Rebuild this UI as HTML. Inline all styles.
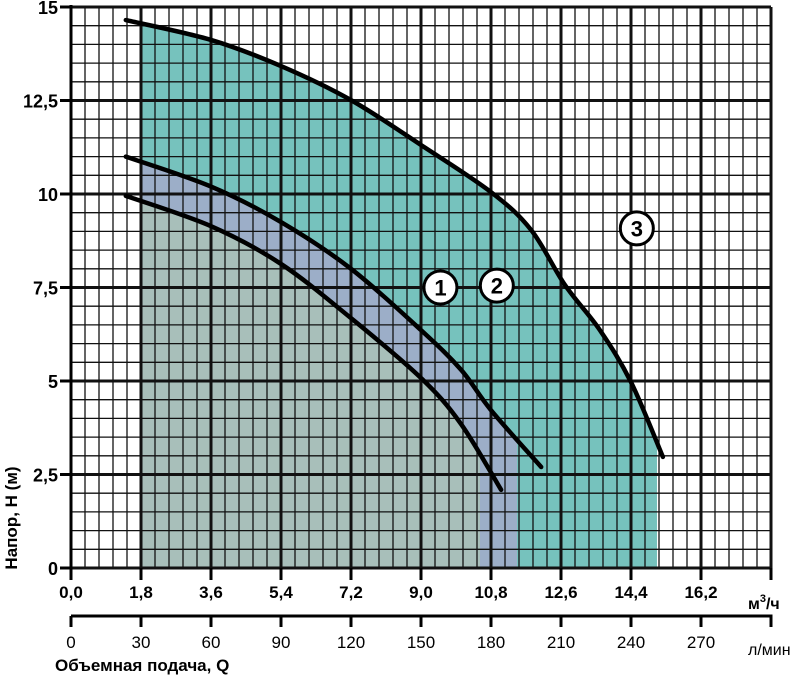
<!DOCTYPE html>
<html><head><meta charset="utf-8"><style>
html,body{margin:0;padding:0;background:#fff;}
svg{display:block;font-family:"Liberation Sans",Arial,sans-serif;}
</style></head><body>
<svg id="chart" width="797" height="677" viewBox="0 0 797 677" xmlns="http://www.w3.org/2000/svg">
<defs>
<clipPath id="c3"><rect x="141" y="0" width="516" height="568"/></clipPath>
<clipPath id="c2"><rect x="141" y="0" width="376" height="568"/></clipPath>
<clipPath id="c1"><rect x="141" y="0" width="339" height="568"/></clipPath>
</defs>
<g id="fills"></g>
<g id="grid"></g>
<g id="curves"></g>
<g id="axes"></g>
</svg>
<script>
const xTicksM3 = ["0,0","1,8","3,6","5,4","7,2","9,0","10,8","12,6","14,4","16,2"];
const xTicksL = ["0","30","60","90","120","150","180","210","240","270"];
const yTicks = ["0","2,5","5","7,5","10","12,5","15"];
const curve1Q = [1.41,3.6,5.4,7.2,9.0,10.03,11.06];
const curve1H = [9.95,9.14,8.13,6.68,5.08,3.85,2.09];
const curve2Q = [1.41,3.6,5.4,7.2,9.0,10.03,10.8,12.09];
const curve2H = [11.0,10.2,9.25,8.0,6.36,5.3,4.22,2.7];
const curve3Q = [1.41,3.6,5.4,7.2,9.0,10.8,11.83,12.7,13.6,14.4,15.22];
const curve3H = [14.65,14.12,13.42,12.51,11.31,10.05,9.04,7.57,6.36,4.97,2.97];
const labelIds = ["1","2","3"];
const labelQ = [9.5,10.95,14.55];
const labelH = [7.5,7.55,9.08];

const X0=71, PX_PER_Q=70/1.8, Y0=568, PX_PER_H=561/15;
const xs=q=>X0+q*PX_PER_Q, ys=h=>Y0-h*PX_PER_H;
const NS="http://www.w3.org/2000/svg";
function mk(tag,attrs,parent){const e=document.createElementNS(NS,tag);for(const k in attrs)e.setAttribute(k,attrs[k]);parent.appendChild(e);return e;}
const fills=document.getElementById('fills'),grid=document.getElementById('grid'),curves=document.getElementById('curves'),axes=document.getElementById('axes');

function smooth(Q,H){
  const p=Q.map((q,i)=>[xs(q),ys(H[i])]);
  let d="M"+p[0][0]+","+p[0][1];
  for(let i=0;i<p.length-1;i++){
    const p0=p[i-1]||p[i],p1=p[i],p2=p[i+1],p3=p[i+2]||p2;
    const c1=[p1[0]+(p2[0]-p0[0])/6,p1[1]+(p2[1]-p0[1])/6];
    const c2=[p2[0]-(p3[0]-p1[0])/6,p2[1]-(p3[1]-p1[1])/6];
    d+=" C"+c1[0]+","+c1[1]+" "+c2[0]+","+c2[1]+" "+p2[0]+","+p2[1];
  }
  return {d,first:p[0],last:p[p.length-1]};
}
function area(Q,H,extend){
  const s=smooth(Q,H);
  return s.d+" L"+(s.last[0]+extend)+","+(s.last[1]+extend*2)+" L"+(s.last[0]+extend)+","+Y0+" L"+s.first[0]+","+Y0+" Z";
}
const f3=mk('path',{d:area(curve3Q,curve3H,20),fill:'#76c2bd','clip-path':'url(#c3)'},fills);


const f2=mk('path',{d:area(curve2Q,curve2H,20),fill:'#9caec8','clip-path':'url(#c2)'},fills);


const f1=mk('path',{d:area(curve1Q,curve1H,20),fill:'#a8bfba','clip-path':'url(#c1)'},fills);



// grid
const XMAX=18, HMAX=15;
for(let i=0;i<=50;i++){
  const x=xs(i*0.36), major=i%5===0;
  const l=mk('line',{x1:x,x2:x,y1:ys(HMAX),y2:Y0,stroke:'#111','stroke-width':major?3:1.3},grid);
  
  
}
for(let j=0;j<=30;j++){
  const y=ys(j*0.5), major=j%5===0;
  const l=mk('line',{x1:X0,x2:xs(XMAX),y1:y,y2:y,stroke:'#111','stroke-width':major?3:1.3},grid);
  
  
}

// curves
[[curve1Q,curve1H],[curve2Q,curve2H],[curve3Q,curve3H]].forEach((c,i)=>{
  const p=mk('path',{d:smooth(c[0],c[1]).d,fill:'none',stroke:'#000','stroke-width':4.5,'stroke-linecap':'round'},curves);
  
  
});
labelIds.forEach((t,i)=>{
  const g=mk('g',{},curves);
  
  
  mk('circle',{cx:xs(labelQ[i]),cy:ys(labelH[i]),r:16.5,fill:'#fff',stroke:'#000','stroke-width':3},g);
  const tx=mk('text',{x:xs(labelQ[i]),y:ys(labelH[i])+8,'text-anchor':'middle','font-size':22,'font-weight':'bold'},g);
  tx.textContent=t;
});

// axes
mk('line',{x1:X0,x2:X0,y1:ys(HMAX)-2,y2:Y0+12,stroke:'#000','stroke-width':3},axes);
mk('line',{x1:X0,x2:xs(XMAX)+1.5,y1:616,y2:616,stroke:'#000','stroke-width':3},axes);
yTicks.forEach((t,i)=>{
  const y=ys(i*2.5);
  mk('line',{x1:60,x2:X0,y1:y,y2:y,stroke:'#000','stroke-width':3},axes);
  const tx=mk('text',{x:58,y:y+7,'text-anchor':'end','font-size':18,'font-weight':'bold'},axes);
  
  
  tx.textContent=t;
});
for(let i=0;i<=10;i++){
  const x=xs(i*1.8);
  mk('line',{x1:x,x2:x,y1:Y0,y2:580,stroke:'#000','stroke-width':3},axes);
  mk('line',{x1:x,x2:x,y1:616,y2:627,stroke:'#000','stroke-width':3},axes);
}
xTicksM3.forEach((t,i)=>{
  const tx=mk('text',{x:xs(i*1.8),y:598,'text-anchor':'middle','font-size':17,'font-weight':'bold'},axes);
  
  
  tx.textContent=t;
});
xTicksL.forEach((t,i)=>{
  const tx=mk('text',{x:xs(i*1.8),y:648,'text-anchor':'middle','font-size':17},axes);
  
  
  tx.textContent=t;
});
const u1=mk('text',{x:748,y:609,'font-size':16,'font-weight':'bold'},axes);


u1.innerHTML='м<tspan dy="-7" font-size="11">3</tspan><tspan dy="7">/ч</tspan>';
const u2=mk('text',{x:748,y:655,'font-size':16},axes);


u2.textContent='л/мин';
const xt=mk('text',{x:55,y:671,'font-size':17,'font-weight':'bold'},axes);


xt.textContent='Объемная подача, Q';
const yt=mk('text',{x:0,y:0,'font-size':17,'font-weight':'bold','text-anchor':'middle',transform:'translate(17,518) rotate(-90)'},axes);


yt.textContent='Напор, H (м)';
</script>
</body></html>
